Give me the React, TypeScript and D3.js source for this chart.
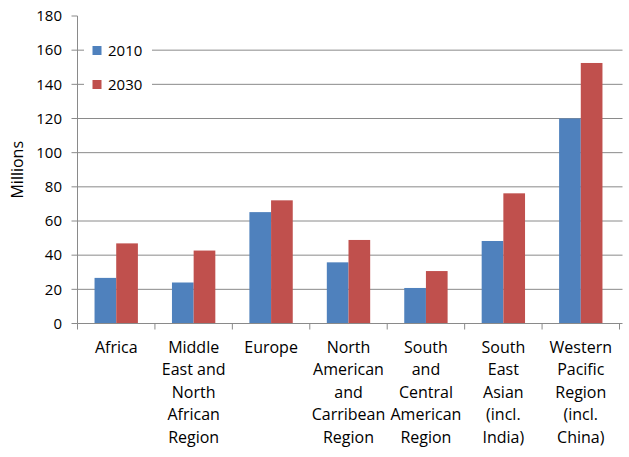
import React from "react";
import * as d3 from "d3";

const categories = [
  ["Africa"],
  ["Middle", "East and", "North", "African", "Region"],
  ["Europe"],
  ["North", "American", "and", "Carribean", "Region"],
  ["South", "and", "Central", "American", "Region"],
  ["South", "East", "Asian", "(incl.", "India)"],
  ["Western", "Pacific", "Region", "(incl.", "China)"],
];
const catKeys = categories.map((c) => c.join(" "));
const series = ["2010", "2030"];
const values2010 = [26.7, 24.0, 65.2, 35.8, 20.8, 48.3, 120];
const values2030 = [46.9, 42.7, 72.1, 48.9, 30.7, 76.2, 152.5];
const yTicks = [0, 20, 40, 60, 80, 100, 120, 140, 160, 180];
const colors = ["#4F81BD", "#C0504D"];

export default function App() {
  const W = 629, H = 457;
  const left = 77.5, right = 619.5, top = 16, bottom = 323.5;
  const font = "'Open Sans', sans-serif";
  const x0 = d3.scaleBand<string>().domain(catKeys).range([left, right]).paddingInner(0.44).paddingOuter(0.22);
  const x1 = d3.scaleBand<string>().domain(series).range([0, x0.bandwidth()]);
  const y = d3.scaleLinear().domain([0, 180]).range([bottom, top]);
  const data = [values2010, values2030];
  const step = x0.step();
  const boundaries = d3.range(categories.length + 1).map((i) => left + i * step);
  return (
    <svg width={W} height={H} style={{ position: "absolute", left: 0, top: 0, background: "#fff" }}>
      {yTicks.map((t) => (
        <g key={t}>
          {t > 0 && t < 180 && <line x1={left} x2={right + 3} y1={y(t)} y2={y(t)} stroke="#8a8a8a" strokeWidth={1} />}
          <line x1={left - 6} x2={left} y1={y(t)} y2={y(t)} stroke="#8a8a8a" strokeWidth={1} />
          <text x={62} y={y(t)} dy="0.35em" textAnchor="end" fontFamily={font} fontSize={15} fill="#000">{t}</text>
        </g>
      ))}
      <rect x={84} y={35} width={68} height={62} fill="#fff" />
      {series.map((s, i) => (
        <g key={s}>
          <rect x={92.5} y={46 + i * 34} width={9} height={9} fill={colors[i]} />
          <text x={108} y={51 + i * 34} dy="0.35em" fontFamily={font} fontSize={15} fill="#000">{s}</text>
        </g>
      ))}
      {catKeys.map((c, ci) => (
        <g key={c}>
          {series.map((s, si) => (
            <rect
              key={s}
              x={(x0(c) as number) + (x1(s) as number)}
              width={x1.bandwidth()}
              y={y(data[si][ci])}
              height={y(0) - y(data[si][ci])}
              fill={colors[si]}
            />
          ))}
          {categories[ci].map((line, li) => (
            <text
              key={li}
              x={(x0(c) as number) + x0.bandwidth() / 2}
              y={347 + li * 22.6}
              dy="0.35em"
              textAnchor="middle"
              fontFamily={font}
              fontSize={16}
              fill="#000"
            >
              {line}
            </text>
          ))}
        </g>
      ))}
      <line x1={left} x2={left} y1={top} y2={bottom} stroke="#8a8a8a" />
      <line x1={left} x2={right + 3} y1={bottom} y2={bottom} stroke="#8a8a8a" />
      {boundaries.map((b, i) => (
        <line key={i} x1={b} x2={b} y1={bottom} y2={bottom + 6} stroke="#8a8a8a" />
      ))}
      <text
        transform={`translate(17,${(top + bottom) / 2}) rotate(-90)`}
        textAnchor="middle"
        dy="0.35em"
        fontFamily={font}
        fontSize={16}
        fill="#000"
      >
        Millions
      </text>
    </svg>
  );
}
